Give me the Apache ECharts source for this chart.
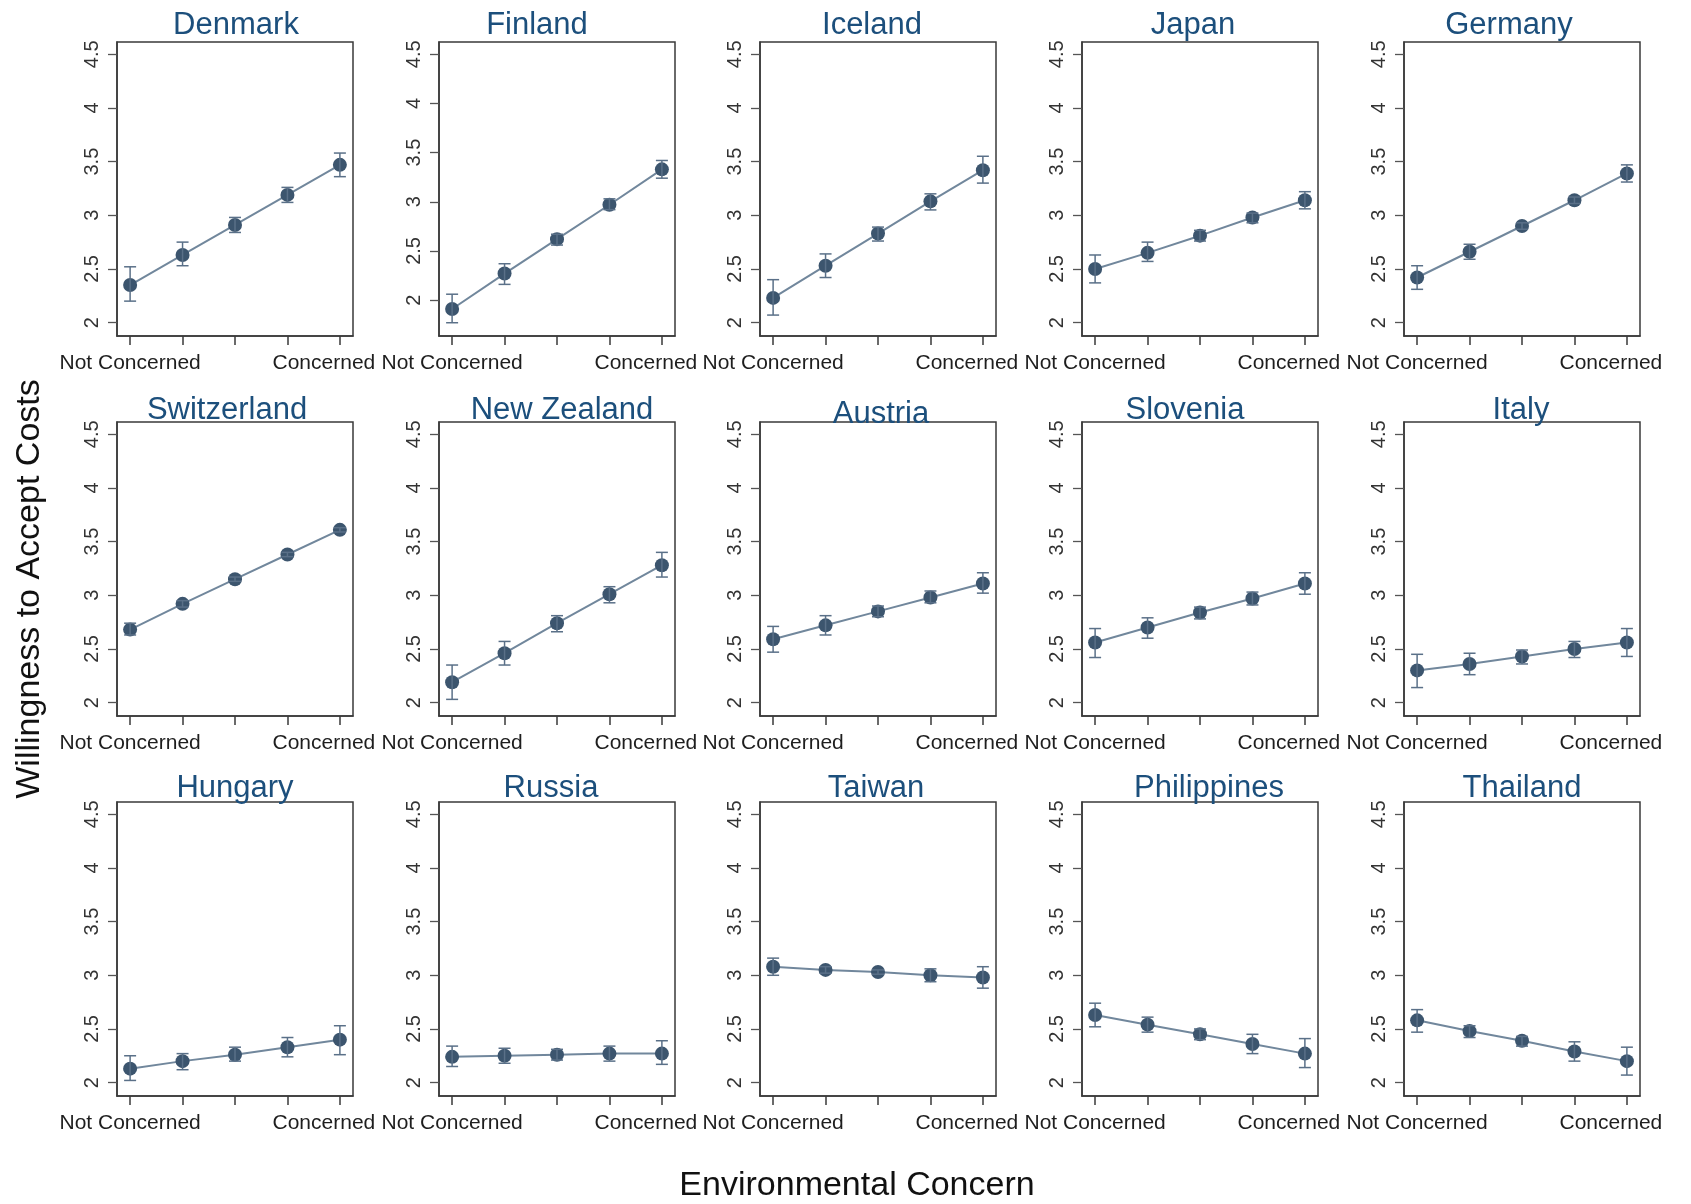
<!DOCTYPE html>
<html>
<head>
<meta charset="utf-8">
<script src="https://cdn.jsdelivr.net/npm/echarts@6/dist/echarts.min.js"></script>
<style>
html, body { margin: 0; padding: 0; background: #fff; }
#chart { width: 1691px; height: 1204px; }
</style>
</head>
<body>
<div id="chart"></div>
<script>
// data (willingness to accept costs by concern level)
var countries = ['Denmark', 'Finland', 'Iceland', 'Japan', 'Germany',
  'Switzerland', 'New Zealand', 'Austria', 'Slovenia', 'Italy',
  'Hungary', 'Russia', 'Taiwan', 'Philippines', 'Thailand'];
var concernLevels = [1, 2, 3, 4, 5];
var yTickValues = [2, 2.5, 3, 3.5, 4, 4.5];

var meanWTA = [
  [2.35, 2.63, 2.91, 3.19, 3.47],
  [1.91, 2.27, 2.62, 2.97, 3.33],
  [2.23, 2.53, 2.83, 3.13, 3.42],
  [2.50, 2.65, 2.81, 2.98, 3.14],
  [2.42, 2.66, 2.90, 3.14, 3.39],
  [2.68, 2.92, 3.15, 3.38, 3.61],
  [2.19, 2.46, 2.74, 3.01, 3.28],
  [2.59, 2.72, 2.85, 2.98, 3.11],
  [2.56, 2.70, 2.84, 2.97, 3.11],
  [2.30, 2.36, 2.43, 2.50, 2.56],
  [2.13, 2.20, 2.26, 2.33, 2.40],
  [2.24, 2.25, 2.26, 2.27, 2.27],
  [3.08, 3.05, 3.03, 3.00, 2.98],
  [2.63, 2.54, 2.45, 2.36, 2.27],
  [2.58, 2.48, 2.39, 2.29, 2.20]
];
var lowerCI = [
  [2.20, 2.53, 2.84, 3.12, 3.36],
  [1.77, 2.16, 2.56, 2.92, 3.24],
  [2.07, 2.42, 2.76, 3.05, 3.30],
  [2.37, 2.57, 2.76, 2.93, 3.06],
  [2.31, 2.59, 2.87, 3.11, 3.31],
  [2.63, 2.89, 3.13, 3.36, 3.59],
  [2.03, 2.35, 2.66, 2.93, 3.17],
  [2.47, 2.63, 2.80, 2.93, 3.02],
  [2.42, 2.60, 2.78, 2.91, 3.01],
  [2.14, 2.26, 2.36, 2.42, 2.43],
  [2.02, 2.12, 2.20, 2.24, 2.26],
  [2.15, 2.18, 2.21, 2.20, 2.17],
  [3.00, 3.02, 3.01, 2.94, 2.88],
  [2.52, 2.47, 2.40, 2.27, 2.14],
  [2.47, 2.42, 2.34, 2.20, 2.07]
];
var upperCI = [
  [2.52, 2.75, 2.98, 3.26, 3.58],
  [2.06, 2.37, 2.67, 3.03, 3.42],
  [2.40, 2.64, 2.89, 3.20, 3.55],
  [2.63, 2.75, 2.86, 3.02, 3.22],
  [2.53, 2.73, 2.93, 3.17, 3.47],
  [2.74, 2.95, 3.17, 3.40, 3.63],
  [2.35, 2.57, 2.81, 3.08, 3.40],
  [2.71, 2.81, 2.90, 3.04, 3.21],
  [2.69, 2.79, 2.89, 3.03, 3.21],
  [2.45, 2.46, 2.49, 2.57, 2.69],
  [2.25, 2.27, 2.33, 2.42, 2.53],
  [2.34, 2.32, 2.31, 2.34, 2.39],
  [3.16, 3.08, 3.05, 3.06, 3.08],
  [2.74, 2.61, 2.50, 2.45, 2.41],
  [2.68, 2.53, 2.43, 2.38, 2.33]
];
// y range per panel (Finland's axis goes lower)
var yAxisMin = [1.875, 1.635, 1.875, 1.875, 1.875, 1.875, 1.875, 1.875, 1.875, 1.875, 1.875, 1.875, 1.875, 1.875, 1.875];
var yAxisMax = [4.615, 4.625, 4.615, 4.615, 4.615, 4.615, 4.615, 4.615, 4.615, 4.615, 4.615, 4.615, 4.615, 4.615, 4.615];

// layout
var colLeft = [117, 439, 760, 1082, 1404];
var rowTop = [42, 422, 802];
var plotW = 236, plotH = 294;
var titleY = [25, 410, 788];
var titleShift = [1, -20, -6, -7, -13, -8, 5, 3, -15, -1, 0, -6, -2, 9, 0];
var FONT = '"Liberation Sans", Arial, sans-serif';
var frameColor = '#3a3a3a';

var myChart = echarts.init(document.getElementById('chart'));

var grids = [], xAxes = [], yAxes = [], series = [], graphics = [];

countries.forEach(function (name, i) {
  var r = Math.floor(i / 5), c = i % 5;
  grids.push({
    left: colLeft[c], top: rowTop[r], width: plotW, height: plotH,
    show: true, borderColor: frameColor, borderWidth: 1.5
  });
  xAxes.push({
    gridIndex: i, type: 'value', min: 0.75, max: 5.25,
    axisLine: { show: true, onZero: false, lineStyle: { color: frameColor, width: 1.5 } },
    axisTick: { show: true, length: 9, customValues: concernLevels, lineStyle: { color: frameColor, width: 1.5 } },
    axisLabel: {
      customValues: [1, 5], margin: 17,
      fontFamily: FONT, fontSize: 21, color: '#1e1e1e',
      formatter: function (v) {
        if (v === 1) return 'Not Concerned';
        return '{c|Concerned}';
      },
      rich: { c: { fontFamily: FONT, fontSize: 21, color: '#1e1e1e', padding: [0, 32, 0, 0] } }
    },
    splitLine: { show: false }
  });
  yAxes.push({
    gridIndex: i, type: 'value', min: yAxisMin[i], max: yAxisMax[i],
    axisLine: { show: true, onZero: false, lineStyle: { color: frameColor, width: 1.5 } },
    axisTick: { show: true, length: 9, customValues: yTickValues, lineStyle: { color: '#555', width: 1.3 } },
    axisLabel: {
      customValues: yTickValues, rotate: 90, margin: 15,
      fontFamily: FONT, fontSize: 20, color: '#333'
    },
    splitLine: { show: false }
  });

  series.push({
    type: 'line', xAxisIndex: i, yAxisIndex: i,
    data: concernLevels.map(function (x, k) { return [x, meanWTA[i][k]]; }),
    symbol: 'circle', symbolSize: 14,
    itemStyle: { color: '#3c556e' },
    lineStyle: { color: '#71879c', width: 2 },
    z: 2, animation: false
  });
  series.push({
    type: 'custom', xAxisIndex: i, yAxisIndex: i,
    data: concernLevels.map(function (x, k) { return [x, lowerCI[i][k], upperCI[i][k]]; }),
    encode: { x: 0, y: [1, 2] },
    renderItem: function (params, api) {
      var x = api.value(0);
      var lo = api.coord([x, api.value(1)]);
      var hi = api.coord([x, api.value(2)]);
      var w = 6;
      var st = { stroke: '#5a7088', lineWidth: 1.5 };
      return {
        type: 'group',
        children: [
          { type: 'line', shape: { x1: lo[0], y1: lo[1], x2: hi[0], y2: hi[1] }, style: st },
          { type: 'line', shape: { x1: lo[0] - w, y1: lo[1], x2: lo[0] + w, y2: lo[1] }, style: st },
          { type: 'line', shape: { x1: hi[0] - w, y1: hi[1], x2: hi[0] + w, y2: hi[1] }, style: st }
        ]
      };
    },
    z: 3, animation: false
  });

  graphics.push({
    type: 'text',
    x: colLeft[c] + plotW / 2 + titleShift[i],
    y: titleY[r] + (name === 'Austria' ? 4 : 0),
    style: {
      text: name, fontFamily: FONT, fontSize: 31, fill: '#1c4f7c',
      align: 'center', verticalAlign: 'middle', textAlign: 'center', textVerticalAlign: 'middle'
    }
  });
});

graphics.push({
  type: 'text', x: 30, y: 589, rotation: Math.PI / 2,
  style: {
    text: 'Willingness to Accept Costs', fontFamily: FONT, fontSize: 34, fill: '#111',
    align: 'center', verticalAlign: 'middle', textAlign: 'center', textVerticalAlign: 'middle'
  }
});
graphics.push({
  type: 'text', x: 857, y: 1186,
  style: {
    text: 'Environmental Concern', fontFamily: FONT, fontSize: 34, fill: '#111',
    align: 'center', verticalAlign: 'middle', textAlign: 'center', textVerticalAlign: 'middle'
  }
});

myChart.setOption({
  backgroundColor: '#fff',
  animation: false,
  grid: grids,
  xAxis: xAxes,
  yAxis: yAxes,
  series: series,
  graphic: graphics
});
</script>
</body>
</html>
